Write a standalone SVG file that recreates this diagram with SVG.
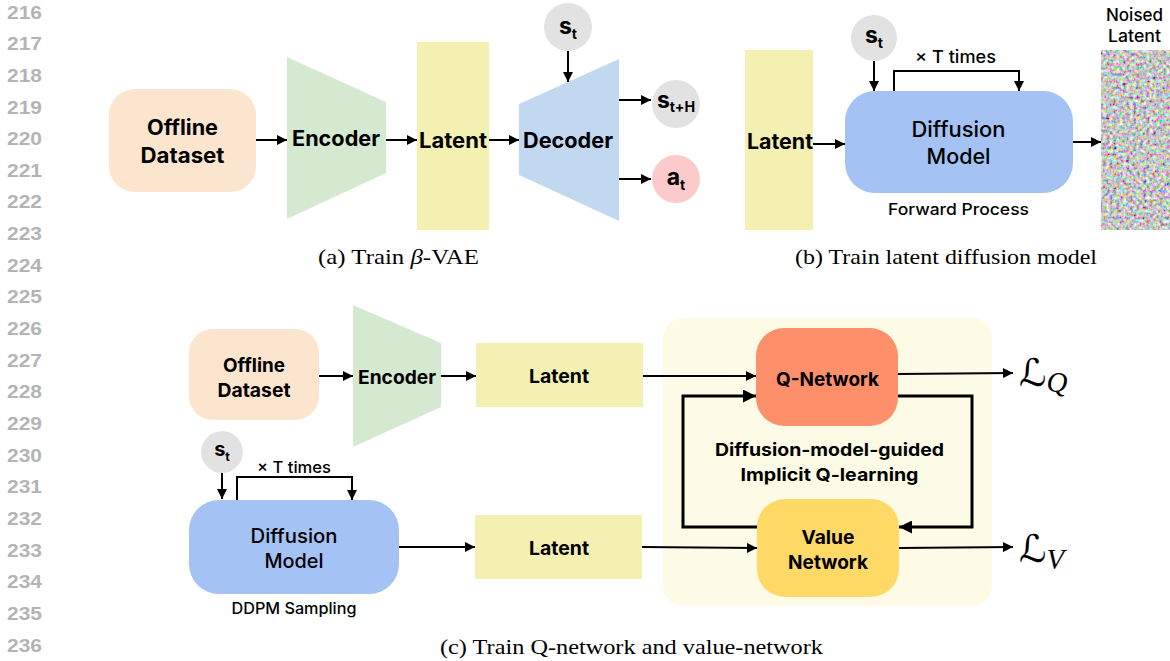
<svg xmlns="http://www.w3.org/2000/svg" width="1170" height="661" viewBox="0 0 1170 661">
  <defs>
    <marker id="ah" viewBox="0 0 10 10" refX="10" refY="5" markerWidth="11" markerHeight="10" markerUnits="userSpaceOnUse" orient="auto">
      <path d="M0,0 L10,5 L0,10 z" fill="#000"/>
    </marker>
    <marker id="ahBig" viewBox="0 0 10 10" refX="10" refY="5" markerWidth="14" markerHeight="13" markerUnits="userSpaceOnUse" orient="auto">
      <path d="M0,0 L10,5 L0,10 z" fill="#000"/>
    </marker>
    <filter id="noise" x="0" y="0" width="100%" height="100%">
      <feTurbulence type="fractalNoise" baseFrequency="0.3" numOctaves="2" seed="7" result="t"/>
      <feColorMatrix in="t" type="matrix" values="1.8 0 0 0 -0.33  0 1.8 0 0 -0.33  0 0 1.8 0 -0.33  0 0 0 0 1"/>
    </filter>
    <style>
      .ln { font-family: "Liberation Sans", Arial, sans-serif; font-weight: bold; font-size: 18px; fill: #b4b4b4; }
      .lbl { font-family: Inter, Roboto, "Liberation Sans", sans-serif; font-weight: bold; fill: #000; text-anchor: middle; }
      .med { font-family: Inter, Roboto, "Liberation Sans", sans-serif; font-weight: 500; fill: #000; text-anchor: middle; }
      .cap { font-family: "Liberation Serif", "Times New Roman", serif; font-size: 21px; fill: #000; text-anchor: middle; }
      .edge { stroke: #000; stroke-width: 2; fill: none; marker-end: url(#ah); }
      .edgeThick { stroke: #000; stroke-width: 3; fill: none; marker-end: url(#ahBig); }
      .sub { font-size: 0.62em; }
      .calL { font-family: "DejaVu Serif", "DejaVu Sans", serif; font-size: 38px; }
      .mathSub { font-family: "Liberation Serif", serif; font-style: italic; font-size: 29px; }
    </style>
  </defs>

  <rect width="1170" height="661" fill="#fff"/>

  <!-- line numbers -->
  <g id="line-numbers">
    <text class="ln" x="7" y="18.5" textLength="35" lengthAdjust="spacingAndGlyphs">216</text>
    <text class="ln" x="7" y="50.2" textLength="35" lengthAdjust="spacingAndGlyphs">217</text>
    <text class="ln" x="7" y="81.8" textLength="35" lengthAdjust="spacingAndGlyphs">218</text>
    <text class="ln" x="7" y="113.5" textLength="35" lengthAdjust="spacingAndGlyphs">219</text>
    <text class="ln" x="7" y="145.1" textLength="35" lengthAdjust="spacingAndGlyphs">220</text>
    <text class="ln" x="7" y="176.8" textLength="35" lengthAdjust="spacingAndGlyphs">221</text>
    <text class="ln" x="7" y="208.4" textLength="35" lengthAdjust="spacingAndGlyphs">222</text>
    <text class="ln" x="7" y="240.1" textLength="35" lengthAdjust="spacingAndGlyphs">223</text>
    <text class="ln" x="7" y="271.7" textLength="35" lengthAdjust="spacingAndGlyphs">224</text>
    <text class="ln" x="7" y="303.4" textLength="35" lengthAdjust="spacingAndGlyphs">225</text>
    <text class="ln" x="7" y="335.0" textLength="35" lengthAdjust="spacingAndGlyphs">226</text>
    <text class="ln" x="7" y="366.7" textLength="35" lengthAdjust="spacingAndGlyphs">227</text>
    <text class="ln" x="7" y="398.3" textLength="35" lengthAdjust="spacingAndGlyphs">228</text>
    <text class="ln" x="7" y="430.0" textLength="35" lengthAdjust="spacingAndGlyphs">229</text>
    <text class="ln" x="7" y="461.6" textLength="35" lengthAdjust="spacingAndGlyphs">230</text>
    <text class="ln" x="7" y="493.3" textLength="35" lengthAdjust="spacingAndGlyphs">231</text>
    <text class="ln" x="7" y="524.9" textLength="35" lengthAdjust="spacingAndGlyphs">232</text>
    <text class="ln" x="7" y="556.6" textLength="35" lengthAdjust="spacingAndGlyphs">233</text>
    <text class="ln" x="7" y="588.2" textLength="35" lengthAdjust="spacingAndGlyphs">234</text>
    <text class="ln" x="7" y="619.9" textLength="35" lengthAdjust="spacingAndGlyphs">235</text>
    <text class="ln" x="7" y="651.5" textLength="35" lengthAdjust="spacingAndGlyphs">236</text>
  </g>

  <!-- (a) Train beta-VAE -->
  <g id="a-offline">
    <rect x="109" y="89" width="147" height="103" rx="26" fill="#fce5cf"/>
    <text class="lbl" x="182.5" y="134.5" font-size="21" textLength="71" lengthAdjust="spacingAndGlyphs">Offline</text>
    <text class="lbl" x="182.5" y="162.5" font-size="21" textLength="84" lengthAdjust="spacingAndGlyphs">Dataset</text>
  </g>
  <g id="a-encoder">
    <polygon points="287,57 386,102 386,173 287,219" fill="#d5e8d0"/>
    <text class="lbl" x="336" y="146" font-size="21" textLength="88" lengthAdjust="spacingAndGlyphs">Encoder</text>
  </g>
  <g id="a-latent">
    <rect x="417" y="42" width="72" height="188" fill="#f3f0b2"/>
    <text class="lbl" x="453" y="148" font-size="21" textLength="68" lengthAdjust="spacingAndGlyphs">Latent</text>
  </g>
  <g id="a-decoder">
    <polygon points="519,104 619,59 619,221 519,175" fill="#c2d7f0"/>
    <text class="lbl" x="568" y="148" font-size="21" textLength="90" lengthAdjust="spacingAndGlyphs">Decoder</text>
  </g>
  <g id="a-st">
    <circle cx="568" cy="27" r="24" fill="#e2e2e2"/>
    <text class="lbl" x="568" y="34" font-size="23">s<tspan class="sub" dy="5">t</tspan></text>
  </g>
  <g id="a-stH">
    <circle cx="676" cy="104" r="24" fill="#e2e2e2"/>
    <text class="lbl" x="676" y="108" font-size="23">s<tspan class="sub" dy="4">t+H</tspan></text>
  </g>
  <g id="a-at">
    <circle cx="676" cy="179" r="24" fill="#fccaca"/>
    <text class="lbl" x="676" y="185" font-size="23">a<tspan class="sub" dy="5">t</tspan></text>
  </g>
  <text class="cap" x="398.5" y="264" textLength="161" lengthAdjust="spacingAndGlyphs">(a) Train <tspan font-style="italic">β</tspan>-VAE</text>

  <!-- (b) Train latent diffusion model -->
  <g id="b-latent">
    <rect x="745" y="50" width="68" height="180" fill="#f3f0b2"/>
    <text class="lbl" x="780" y="149" font-size="21" textLength="66" lengthAdjust="spacingAndGlyphs">Latent</text>
  </g>
  <g id="b-st">
    <circle cx="874" cy="38" r="23" fill="#e2e2e2"/>
    <text class="lbl" x="874" y="43" font-size="23">s<tspan class="sub" dy="5">t</tspan></text>
  </g>
  <g id="b-diffusion">
    <rect x="845" y="91" width="228" height="102" rx="30" fill="#a4c2f4"/>
    <text class="med" x="958.5" y="137" font-size="21" textLength="94" lengthAdjust="spacingAndGlyphs">Diffusion</text>
    <text class="med" x="958.5" y="164" font-size="21" textLength="64" lengthAdjust="spacingAndGlyphs">Model</text>
    <text class="med" x="958.5" y="215" font-size="16" textLength="141" lengthAdjust="spacingAndGlyphs">Forward Process</text>
  </g>
  <text class="med" x="955.5" y="63" font-size="17" textLength="81" lengthAdjust="spacingAndGlyphs">× T times</text>
  <g id="b-noised">
    <rect x="1101" y="50" width="69" height="180" fill="#888" filter="url(#noise)"/>
    <text class="med" x="1134.5" y="21" font-size="17" textLength="57" lengthAdjust="spacingAndGlyphs">Noised</text>
    <text class="med" x="1134.5" y="42" font-size="17" textLength="53" lengthAdjust="spacingAndGlyphs">Latent</text>
  </g>
  <text class="cap" x="946" y="264" textLength="302" lengthAdjust="spacingAndGlyphs">(b) Train latent diffusion model</text>

  <!-- (c) Train Q-network and value-network -->
  <g id="c-iql-box">
    <rect x="663" y="318" width="329" height="288" rx="20" fill="#fdfae6"/>
    <text class="lbl" x="829.5" y="456" font-size="18" textLength="229" lengthAdjust="spacingAndGlyphs">Diffusion-model-guided</text>
    <text class="lbl" x="829.5" y="481" font-size="18" textLength="178" lengthAdjust="spacingAndGlyphs">Implicit Q-learning</text>
  </g>
  <g id="c-offline">
    <rect x="189" y="329" width="130" height="91" rx="24" fill="#fce5cf"/>
    <text class="lbl" x="254" y="372" font-size="19" textLength="62" lengthAdjust="spacingAndGlyphs">Offline</text>
    <text class="lbl" x="254" y="397" font-size="19" textLength="73" lengthAdjust="spacingAndGlyphs">Dataset</text>
  </g>
  <g id="c-encoder">
    <polygon points="353,305 441,343 441,407 353,447" fill="#d5e8d0"/>
    <text class="lbl" x="397" y="384" font-size="19" textLength="78" lengthAdjust="spacingAndGlyphs">Encoder</text>
  </g>
  <g id="c-latent1">
    <rect x="476" y="343" width="167" height="64" fill="#f3f0b2"/>
    <text class="lbl" x="559" y="383" font-size="19" textLength="60" lengthAdjust="spacingAndGlyphs">Latent</text>
  </g>
  <g id="c-st">
    <circle cx="222" cy="452" r="21" fill="#e2e2e2"/>
    <text class="lbl" x="222" y="456" font-size="20">s<tspan class="sub" dy="5">t</tspan></text>
  </g>
  <text class="med" x="294" y="473" font-size="16" textLength="74" lengthAdjust="spacingAndGlyphs">× T times</text>
  <g id="c-diffusion">
    <rect x="189" y="500" width="210" height="94" rx="30" fill="#a4c2f4"/>
    <text class="med" x="294" y="543" font-size="20" textLength="87" lengthAdjust="spacingAndGlyphs">Diffusion</text>
    <text class="med" x="294" y="568" font-size="20" textLength="59" lengthAdjust="spacingAndGlyphs">Model</text>
    <text class="med" x="294" y="614" font-size="15.5" textLength="125" lengthAdjust="spacingAndGlyphs">DDPM Sampling</text>
  </g>
  <g id="c-latent2">
    <rect x="475" y="515" width="167" height="64" fill="#f3f0b2"/>
    <text class="lbl" x="559" y="555" font-size="19" textLength="60" lengthAdjust="spacingAndGlyphs">Latent</text>
  </g>
  <g id="c-qnet">
    <rect x="756" y="328" width="142" height="98" rx="28" fill="#fe8f6b"/>
    <text class="lbl" x="827.5" y="386" font-size="19" textLength="103" lengthAdjust="spacingAndGlyphs">Q-Network</text>
  </g>
  <g id="c-vnet">
    <rect x="757" y="499" width="142" height="98" rx="28" fill="#ffd966"/>
    <text class="lbl" x="828" y="544" font-size="19" textLength="53" lengthAdjust="spacingAndGlyphs">Value</text>
    <text class="lbl" x="828" y="569" font-size="19" textLength="80" lengthAdjust="spacingAndGlyphs">Network</text>
  </g>
  <g id="c-lossQ">
    <text x="1019" y="386"><tspan class="calL">ℒ</tspan><tspan class="mathSub" dy="6">Q</tspan></text>
  </g>
  <g id="c-lossV">
    <text x="1019" y="562"><tspan class="calL">ℒ</tspan><tspan class="mathSub" dy="7">V</tspan></text>
  </g>
  <text class="cap" x="631.5" y="654" font-size="22" textLength="383" lengthAdjust="spacingAndGlyphs">(c) Train Q-network and value-network</text>

  <!-- connectors -->
  <g id="connectors">
    <!-- (a) -->
    <line class="edge" x1="256" y1="140" x2="287" y2="140"/>
    <line class="edge" x1="386" y1="140" x2="417" y2="140"/>
    <line class="edge" x1="489" y1="140" x2="519" y2="140"/>
    <line class="edge" x1="568" y1="51" x2="568" y2="82"/>
    <line class="edge" x1="619" y1="100" x2="651" y2="100"/>
    <line class="edge" x1="619" y1="179" x2="651" y2="179"/>
    <!-- (b) -->
    <line class="edge" x1="813" y1="144" x2="845" y2="144"/>
    <line class="edge" x1="874" y1="61" x2="874" y2="91"/>
    <path class="edge" d="M894,91 V71 H1019 V91"/>
    <line class="edge" x1="1073" y1="142" x2="1101" y2="142"/>
    <!-- (c) -->
    <line class="edge" x1="319" y1="376" x2="353" y2="376"/>
    <line class="edge" x1="441" y1="376" x2="476" y2="376"/>
    <line class="edge" x1="643" y1="376" x2="756" y2="376"/>
    <line class="edge" x1="222" y1="473" x2="222" y2="499"/>
    <path class="edge" d="M237,500 V477 H352 V500"/>
    <line class="edge" x1="399" y1="547" x2="475" y2="547"/>
    <line class="edge" x1="642" y1="547" x2="757" y2="548"/>
    <path class="edgeThick" d="M757,527 H683 V396 H756"/>
    <path class="edgeThick" d="M898,396 H972 V527 H899"/>
    <line class="edge" x1="898" y1="374" x2="1013" y2="373"/>
    <line class="edge" x1="899" y1="548" x2="1013" y2="547"/>
  </g>
</svg>
